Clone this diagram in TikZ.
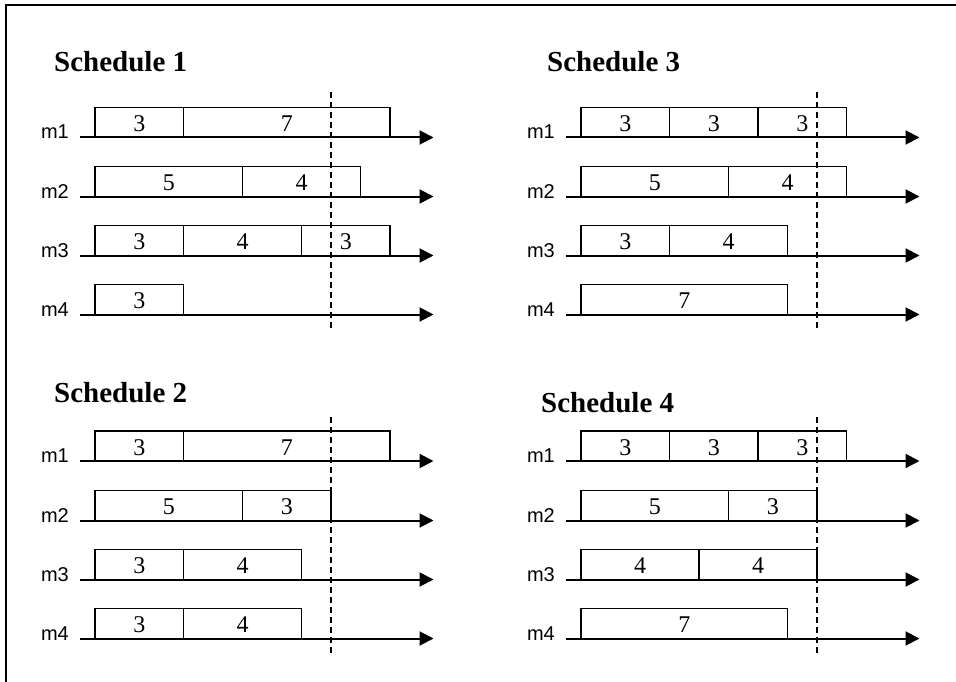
\documentclass[tikz,border=0pt]{standalone}
\usepackage{fontspec}
\setmainfont{Liberation Serif}
\newfontfamily\arialfont{Liberation Sans}
\usetikzlibrary{arrows.meta}
\tikzset{
  axis/.style={line width=2pt, -{Triangle[length=14pt,width=14pt]}},
  jobbox/.style={draw, line width=1.4pt},
  numtxt/.style={font=\fontsize{24}{24}\selectfont, inner sep=0pt},
  lbl/.style={font=\arialfont\fontsize{20}{20}\selectfont, inner sep=0pt},
  ttl/.style={font=\bfseries\fontsize{29}{29}\selectfont, inner sep=0pt},
  cutline/.style={line width=1.2pt, dash pattern=on 6pt off 4pt},
  frameline/.style={line width=2pt}
}
\def\U{29.5}
\newcommand\mrow[5]{% #1 id, #2 x0, #3 axis y, #4 label, #5 list a/b/t
  \node[lbl, anchor=base east] (#1l) at (#2-26,#3+1.5) {#4};
  \coordinate (#1s) at (#2-15.5,#3);
  \coordinate (#1e) at (#2+338.5,#3);
  \foreach \a/\b/\t [count=\i] in {#5} {
    \draw[jobbox] ({#2+\a*\U}, #3) rectangle ({#2+\b*\U}, #3-30);
    \node[numtxt, anchor=base] (#1j\i) at ({#2+(\a+\b)/2*\U}, #3-6) {\t};
  }
  \draw[axis] (#1s) -- (#1e);
}
\newcommand\cut[4]{% #1 id, #2 x0, #3 top, #4 bottom
  \coordinate (#1a) at ({#2+8*\U}, #3);
  \coordinate (#1b) at ({#2+8*\U}, #4);
  \draw[cutline] (#1a) -- (#1b);
}
\begin{document}
\begin{tikzpicture}[x=1pt, y=-1pt]
\useasboundingbox (0,0) rectangle (956,682);
\coordinate (fa) at (6,682);
\coordinate (fb) at (6,5);
\coordinate (fc) at (957,5);
\draw[frameline] (fa) -- (fb) -- (fc);

% Schedule 1
\node[ttl, anchor=base west] (t1) at (54,72) {Schedule 1};
\mrow{sa1}{95}{137.5}{m1}{0/3/3, 3/10/7}
\mrow{sa2}{95}{196.5}{m2}{0/5/5, 5/9/4}
\mrow{sa3}{95}{255.5}{m3}{0/3/3, 3/7/4, 7/10/3}
\mrow{sa4}{95}{314.5}{m4}{0/3/3}
\cut{ca}{95}{92}{330}

% Schedule 3
\node[ttl, anchor=base west] (t3) at (547,72) {Schedule 3};
\mrow{sc1}{581}{137.5}{m1}{0/3/3, 3/6/3, 6/9/3}
\mrow{sc2}{581}{196.5}{m2}{0/5/5, 5/9/4}
\mrow{sc3}{581}{255.5}{m3}{0/3/3, 3/7/4}
\mrow{sc4}{581}{314.5}{m4}{0/7/7}
\cut{cc}{581}{92}{329}

% Schedule 2
\node[ttl, anchor=base west] (t2) at (54,402) {Schedule 2};
\mrow{sb1}{95}{461}{m1}{0/3/3, 3/10/7}
\mrow{sb2}{95}{520.5}{m2}{0/5/5, 5/8/3}
\mrow{sb3}{95}{579.5}{m3}{0/3/3, 3/7/4}
\mrow{sb4}{95}{638.5}{m4}{0/3/3, 3/7/4}
\cut{cb}{95}{417}{654}

% Schedule 4
\node[ttl, anchor=base west] (t4) at (541,412) {Schedule 4};
\mrow{sd1}{581}{461}{m1}{0/3/3, 3/6/3, 6/9/3}
\mrow{sd2}{581}{520.5}{m2}{0/5/5, 5/8/3}
\mrow{sd3}{581}{579.5}{m3}{0/4/4, 4/8/4}
\mrow{sd4}{581}{638.5}{m4}{0/7/7}
\cut{cd}{581}{417}{654}
\end{tikzpicture}
\end{document}
